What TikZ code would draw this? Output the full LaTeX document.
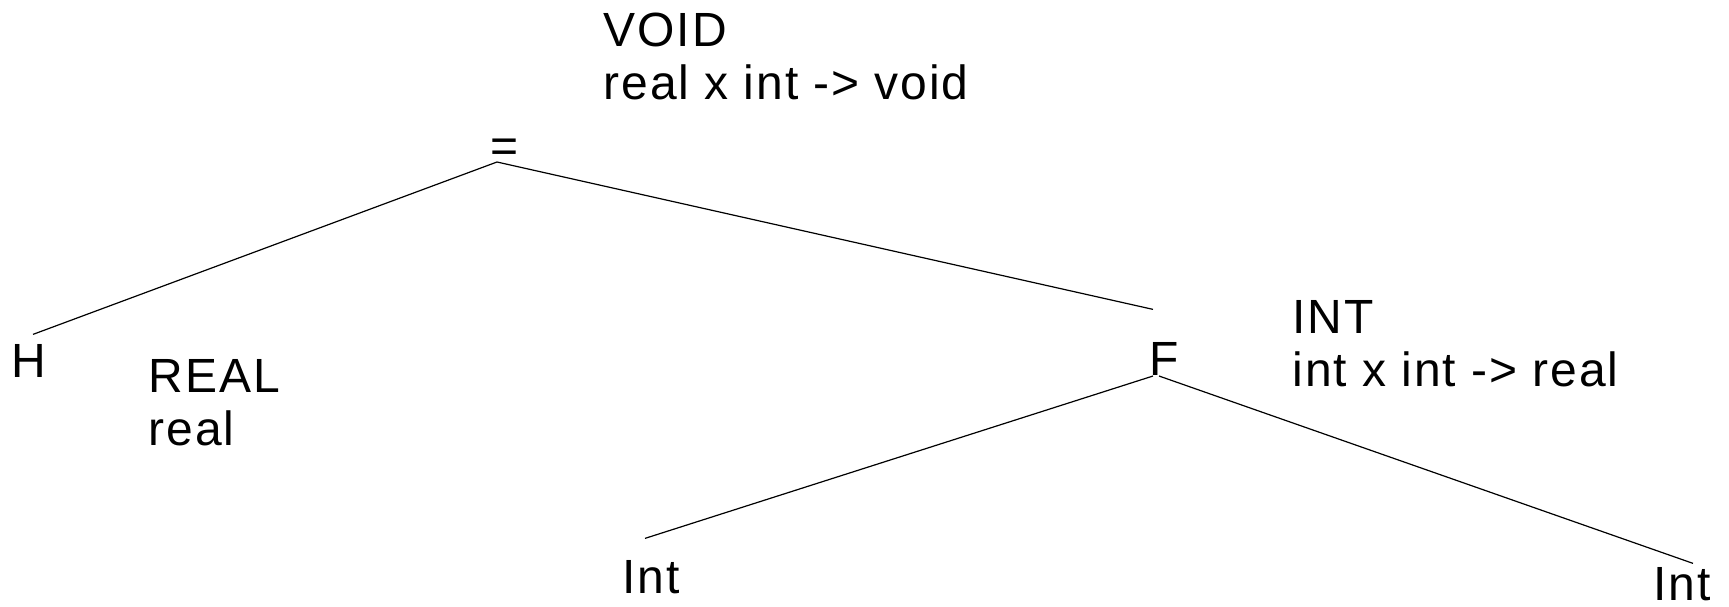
\documentclass[tikz,border=0pt]{standalone}
\usepackage{fontspec}
\setmainfont{Liberation Sans}[LetterSpace=4]

\begin{document}
\begin{tikzpicture}[x=0.5pt,y=-0.5pt,line width=0.6pt,
  every node/.style={inner sep=0pt,font=\fontsize{24}{26.5}\selectfont},
  sym/.style={anchor=base},
  info/.style={anchor=base west,align=left}]
\path[ use as bounding box ] (0,0) rectangle (1729,606);
  % tree symbols
  \node[sym] (eq) at (505,162) {=};
  \node[sym] (H) at (29,377) {H};
  \node[sym] (F) at (1164,375) {F};
  \node[sym] (intl) at (651,593) {Int};
  \node[sym] (intr) at (1682,600) {Int};
  % attributes (base = last line)
  \node[info] (voidinfo) at (603,99) {VOID\\real x int -> void};
  \node[info] (realinfo) at (148,445) {REAL\\real};
  \node[info] (intinfo) at (1292,386) {INT\\int x int -> real};
  % line ends
  \coordinate (eq-root) at ([xshift=-4pt]eq.base);
  \coordinate (h-top) at ([shift={(4,-9)}]H.north);
  \coordinate (f-top) at ([shift={(-11,-32)}]F.north);
  \coordinate (f-left) at ([shift={(-11,1)}]F.base);
  \coordinate (f-right) at ([shift={(-5,1)}]F.base);
  \coordinate (intl-top) at ([shift={(-6,-21)}]intl.north);
  \coordinate (intr-top) at ([shift={(11,-3)}]intr.north);
  \draw (eq-root) -- (h-top);
  \draw (eq-root) -- (f-top);
  \draw (f-left) -- (intl-top);
  \draw (f-right) -- (intr-top);
\end{tikzpicture}
\end{document}
